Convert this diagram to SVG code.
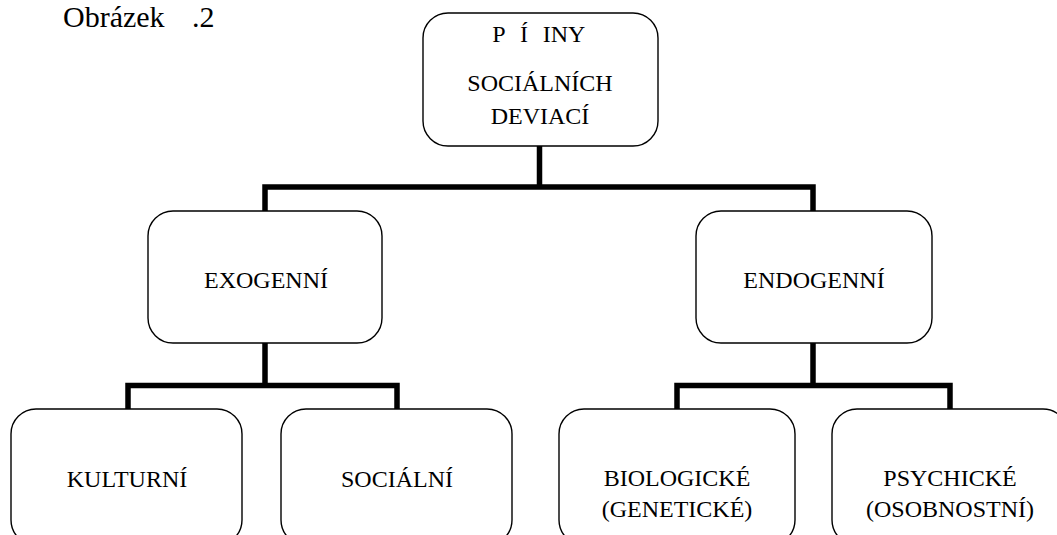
<svg xmlns="http://www.w3.org/2000/svg" width="1057" height="535" viewBox="0 0 1057 535">
<style>
.box{fill:#fff;stroke:#000;stroke-width:1.4}
.conn{fill:none;stroke:#000;stroke-width:5.5;stroke-linejoin:miter;stroke-linecap:butt}
.t{font-family:"Liberation Serif","DejaVu Serif",serif;font-size:24px;fill:#000;text-anchor:middle}
</style>
<rect width="1057" height="535" fill="#fff"/>
<text style="font-family:'Liberation Serif','DejaVu Serif',serif;font-size:30px;fill:#000" x="63" y="27">Obrázek<tspan x="192">.2</tspan></text>
<g id="connectors">
<path class="conn" d="M539.5,146 V187 M265,211 V187 H813 V211"/>
<path class="conn" d="M265,343 V385.5 M128,409 V385.5 H397 V409"/>
<path class="conn" d="M813,343 V385.5 M677,409 V385.5 H950 V409"/>
</g>
<g id="root">
<rect class="box" x="423" y="13" width="235" height="133" rx="25" ry="25"/>
<text class="t" y="42"><tspan x="499">P</tspan><tspan x="524">Í</tspan><tspan x="564">INY</tspan></text>
<text class="t" x="540" y="91">SOCIÁLNÍCH</text>
<text class="t" x="540" y="124">DEVIACÍ</text>
</g>
<g id="exogenni">
<rect class="box" x="148" y="211" width="234" height="132" rx="25" ry="25"/>
<text class="t" x="266" y="288">EXOGENNÍ</text>
</g>
<g id="endogenni">
<rect class="box" x="696" y="211" width="236" height="132" rx="25" ry="25"/>
<text class="t" x="814" y="288">ENDOGENNÍ</text>
</g>
<g id="kulturni">
<rect class="box" x="11" y="409" width="231" height="136" rx="25" ry="25"/>
<text class="t" x="127" y="487">KULTURNÍ</text>
</g>
<g id="socialni">
<rect class="box" x="281" y="409" width="231" height="136" rx="25" ry="25"/>
<text class="t" x="397" y="487">SOCIÁLNÍ</text>
</g>
<g id="biologicke">
<rect class="box" x="559" y="409" width="236" height="136" rx="25" ry="25"/>
<text class="t" x="677" y="486">BIOLOGICKÉ</text>
<text class="t" x="677" y="517">(GENETICKÉ)</text>
</g>
<g id="psychicke">
<rect class="box" x="832" y="409" width="236" height="136" rx="25" ry="25"/>
<text class="t" x="950" y="486">PSYCHICKÉ</text>
<text class="t" x="950" y="517">(OSOBNOSTNÍ)</text>
</g>
</svg>
